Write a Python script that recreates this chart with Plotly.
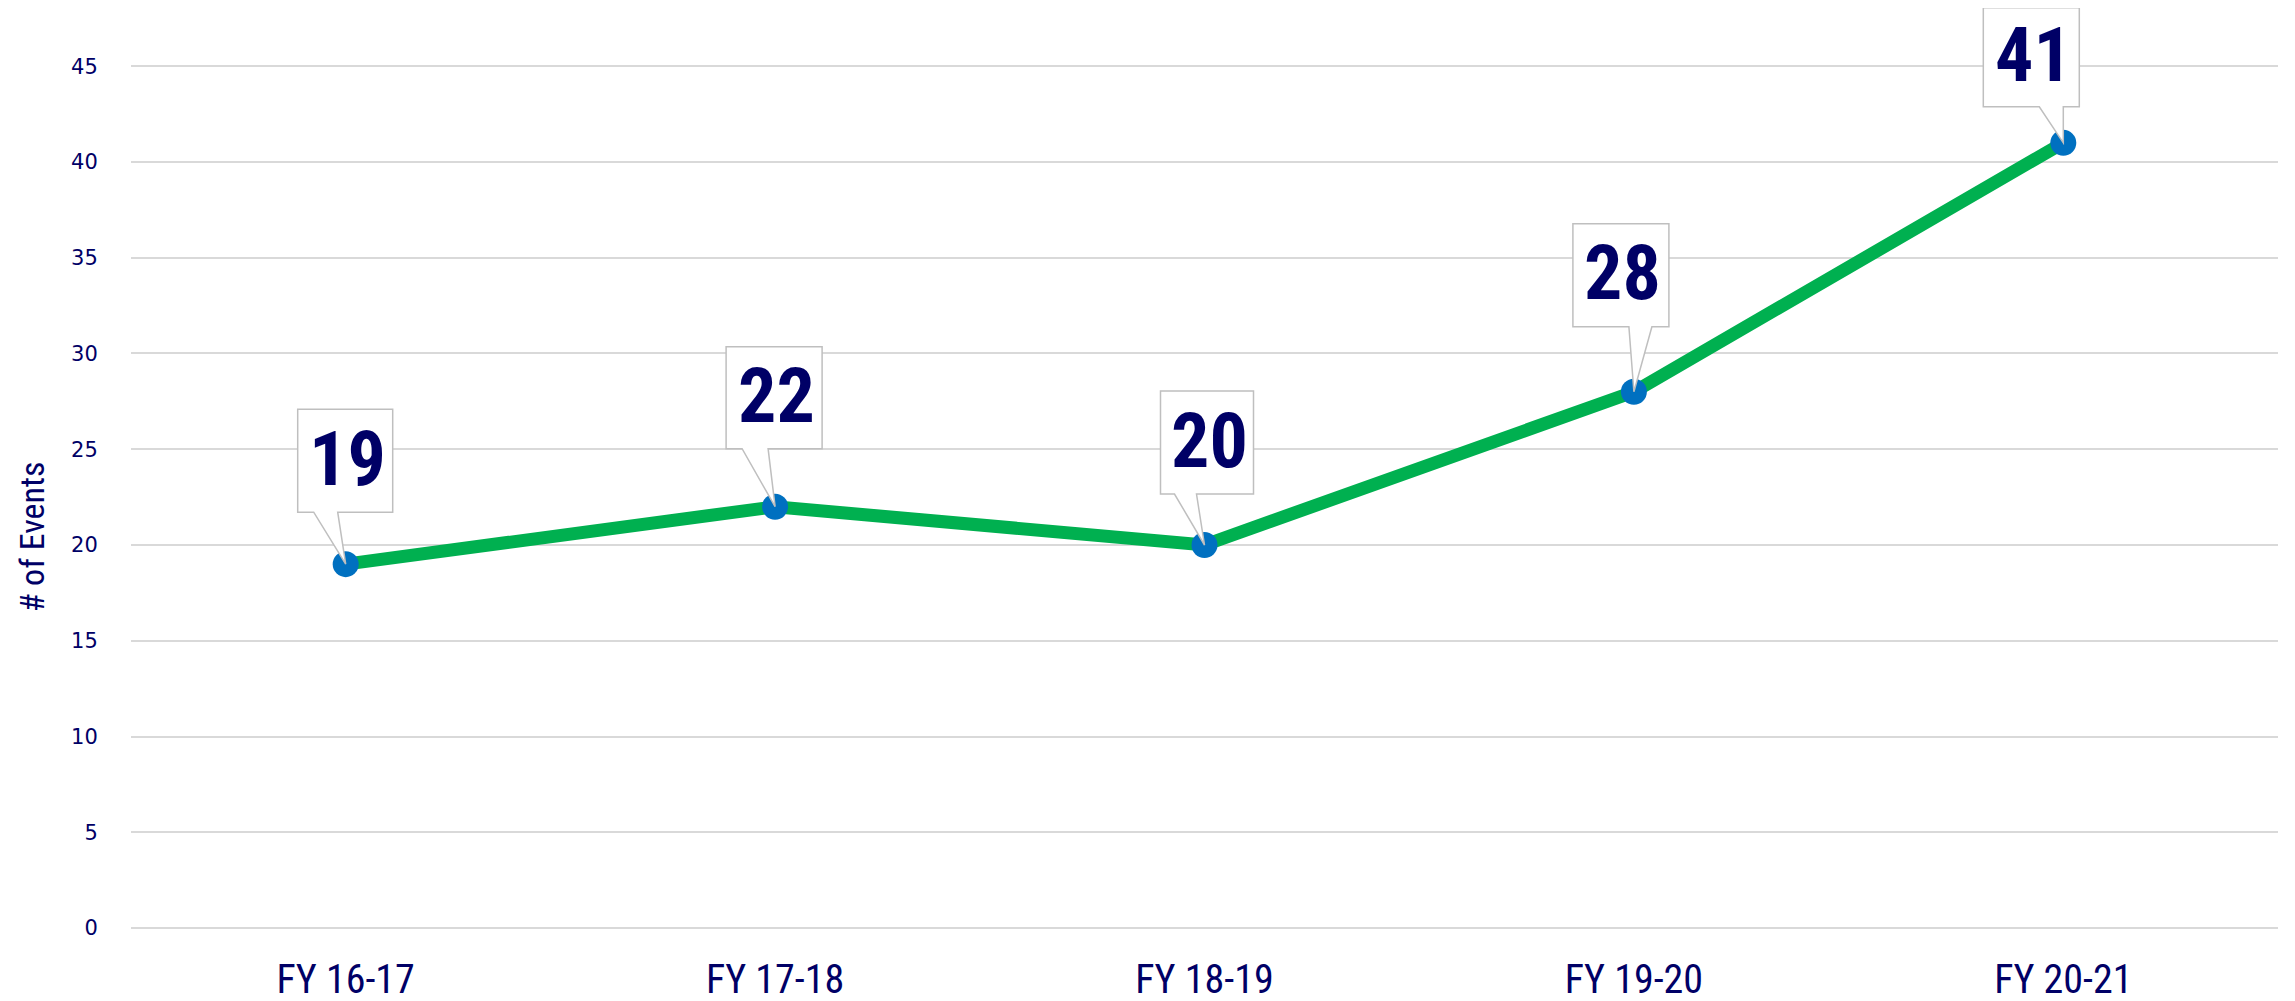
import plotly.graph_objects as go

categories = ["FY 16-17", "FY 17-18", "FY 18-19", "FY 19-20", "FY 20-21"]
events = [19, 22, 20, 28, 41]
y_ticks = [0, 5, 10, 15, 20, 25, 30, 35, 40, 45]

# callout geometry (pixels relative to each point): box left, right, bottom, top, pointer x0, x1
CALLOUTS = [
    (-48, 47, 52, 155, -32, -8),
    (-49, 47, 58, 160, -33, -7),
    (-44, 49, 51, 154, -30, -8),
    (-61, 35, 65, 168, -5, 18),
    (-80, 16, 36, 135, -24, 0),
]

NAVY = "#000066"
NARROW = "Liberation Sans Narrow, Roboto Condensed, DejaVu Sans Condensed, Arial Narrow, sans-serif"

fig = go.Figure()
fig.add_trace(go.Scatter(
    x=categories, y=events, mode="lines+markers",
    line=dict(color="#00B050", width=13),
    marker=dict(color="#0070C0", size=26),
    hoverinfo="skip", showlegend=False,
))

shapes = []
annotations = []
for cat, val, (l, r, b, t, p0, p1) in zip(categories, events, CALLOUTS):
    path = (f"M {l},{b} L {p0},{b} L 0,0 L {p1},{b} L {r},{b} "
            f"L {r},{t} L {l},{t} Z")
    shapes.append(dict(
        type="path", layer="above", xref="x", yref="y",
        xsizemode="pixel", ysizemode="pixel", xanchor=cat, yanchor=val,
        path=path, fillcolor="white", line=dict(color="#BFBFBF", width=1.5),
    ))
    annotations.append(dict(
        x=cat, y=val, xref="x", yref="y", text=f"<b>{val}</b>", showarrow=False,
        xshift=(l + r) / 2 + 2, yshift=(b + t) / 2 + 2,
        font=dict(family=NARROW, size=76, color=NAVY),
    ))

# axis title
annotations.append(dict(
    xref="paper", yref="y", x=(24 - 123) / 2147, y=20.4,
    xanchor="center", yanchor="middle", text="# of Events", textangle=-90,
    showarrow=False, font=dict(family=NARROW, size=34, color=NAVY),
))

fig.update_layout(
    width=2295, height=1001,
    margin=dict(l=123, r=25, t=0, b=76),
    paper_bgcolor="white", plot_bgcolor="white",
    shapes=shapes, annotations=annotations,
    xaxis=dict(
        type="category", range=[-0.5, 4.5], showgrid=False, zeroline=False, showline=False,
        ticks="outside", ticklen=11, tickcolor="rgba(0,0,0,0)",
        tickfont=dict(family=NARROW, size=40, color=NAVY),
    ),
    yaxis=dict(
        range=[-0.26, 48.04], tickvals=y_ticks, showgrid=True, gridcolor="#D9D9D9", gridwidth=1.5,
        zeroline=True, zerolinecolor="#D9D9D9", zerolinewidth=1.5, showline=False,
        ticks="outside", ticklen=28, tickcolor="rgba(0,0,0,0)",
        tickfont=dict(family="DejaVu Sans", size=21, color=NAVY),
    ),
)

fig.write_html("out.html")
